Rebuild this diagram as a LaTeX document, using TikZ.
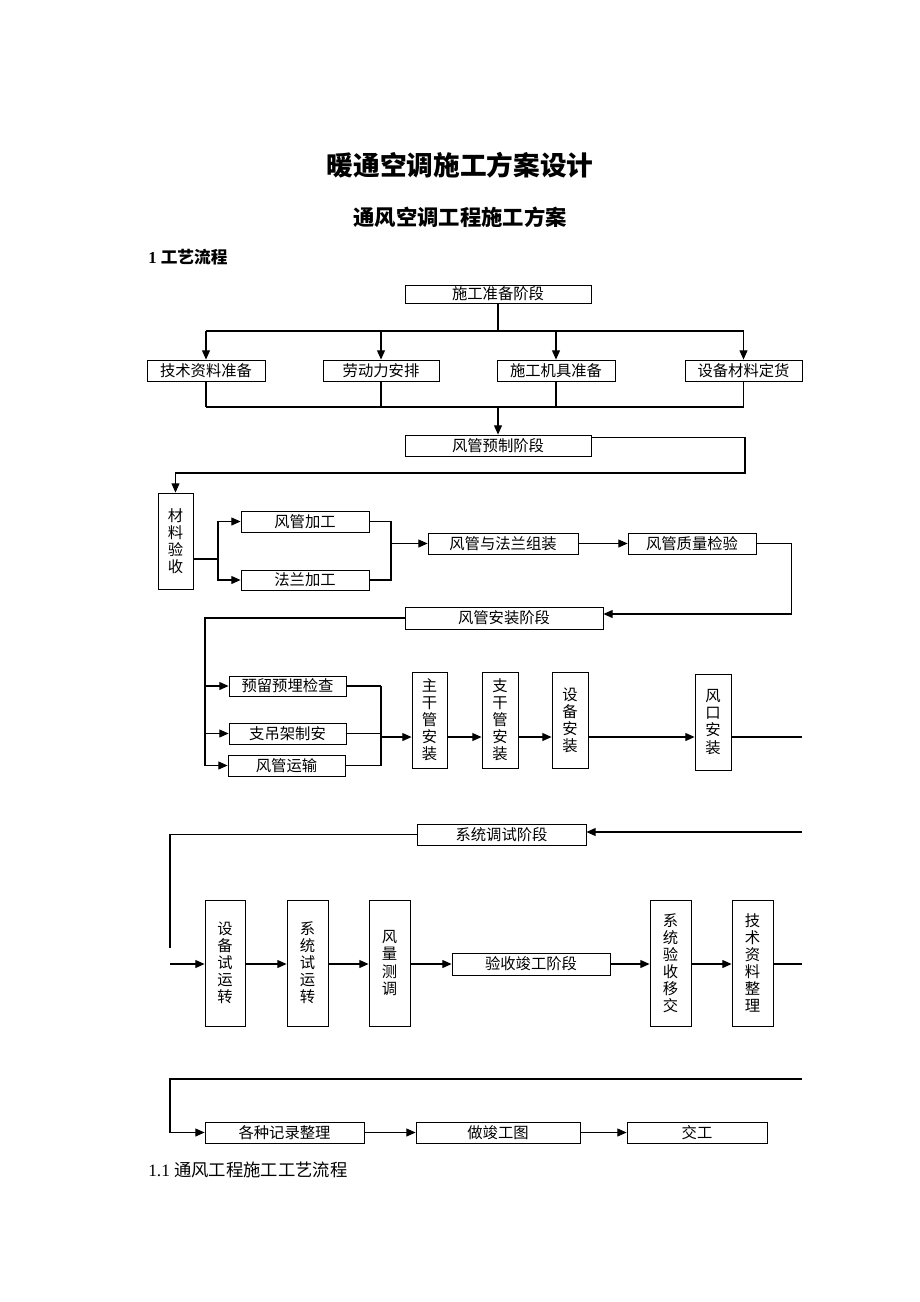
\documentclass[tikz,border=0pt]{standalone}
\usepackage{fontspec}
\setmainfont{Liberation Serif}
\newfontfamily\cjk{Noto Sans CJK SC}
\usetikzlibrary{arrows.meta}
\newlength{\pxunit}
\setlength{\pxunit}{0.75pt}
\newcommand\boxfont{\cjk\fontsize{11.5pt}{12.8pt}\selectfont}
\tikzstyle{flow box}   = [draw,line width=0.6pt,inner sep=0pt,font=\boxfont]
\tikzstyle{wide box}   = [flow box,minimum height=21\pxunit]
\tikzstyle{tall box}   = [flow box,align=center,minimum width=36\pxunit,minimum height=96\pxunit]
\tikzstyle{run box}    = [flow box,align=center,minimum width=41\pxunit,minimum height=126\pxunit]
\tikzstyle{flow line}  = [line width=0.9pt]
\tikzstyle{flow arrow} = [line width=0.9pt,-{Triangle[length=7pt,width=6pt]}]

\begin{document}
\begin{tikzpicture}[x=0.75pt,y=-0.75pt]
    \useasboundingbox (0,0) rectangle (920,1302);

    % Headings
    \node (title) at (460,165) {\cjk\bfseries\fontsize{20pt}{24pt}\selectfont 暖通空调施工方案设计};
    \node (subtitle) at (460,217) {\cjk\bfseries\fontsize{16pt}{19pt}\selectfont 通风空调工程施工方案};
    \node[anchor=west, inner sep=0pt] (section) at (148,257) {\fontsize{12.5pt}{15pt}\selectfont\bfseries 1 {\cjk 工艺流程}};

    % Preparation stage
    \node[flow box, minimum width=186\pxunit, minimum height=18\pxunit] (prep) at (498,294) {施工准备阶段};
    \node[wide box, minimum width=118\pxunit] (tech)  at (206,370.5) {技术资料准备};
    \node[wide box, minimum width=116\pxunit] (labor) at (381,370.5) {劳动力安排};
    \node[wide box, minimum width=118\pxunit] (tool)  at (556,370.5) {施工机具准备};
    \node[wide box, minimum width=117\pxunit] (matl)  at (743.5,370.5) {设备材料定货};
    \coordinate (split top) at (498,331);
    \coordinate (join bot) at (498,407);

    \draw[flow line] (prep.south) -- (split top);
    \draw[flow line] (tech.north |- split top) -- (matl.north |- split top);
    \foreach \n in {tech,labor,tool,matl}{
        \draw[flow arrow] (\n.north |- split top) -- (\n.north);
        \draw[flow line] (\n.south) -- (\n.south |- join bot);
    }
    \draw[flow line] (tech.south |- join bot) -- (matl.south |- join bot);

    % Prefabrication stage
    \node[wide box, minimum width=186\pxunit] (prefab) at (498,445.5) {风管预制阶段};
    \draw[flow arrow] (join bot) -- (prefab.north);

    \node[tall box, minimum width=35\pxunit] (accept) at (175.5,541) {材\\料\\验\\收};
    \node[wide box, minimum width=128\pxunit] (duct)     at (305,521.5) {风管加工};
    \node[wide box, minimum width=128\pxunit, minimum height=20\pxunit] (flange) at (305,580) {法兰加工};
    \node[wide box, minimum width=150\pxunit] (assemble) at (503,543.5) {风管与法兰组装};
    \node[wide box, minimum width=128\pxunit] (quality)  at (692,543.5) {风管质量检验};
    \coordinate (prefab turn) at (745,473);
    \coordinate (fork) at (218,559);
    \coordinate (merge) at (391,543.5);

    \draw[flow arrow] ([yshift=-2pt]prefab.north east) -| (prefab turn) -| (accept.north);
    \draw[flow line] (accept.east |- fork) -- (fork);
    \draw[flow arrow] (fork) |- (duct.west);
    \draw[flow arrow] (fork) |- (flange.west);
    \draw[flow line] (duct.east) -| (merge);
    \draw[flow line] (flange.east) -| (merge);
    \draw[flow arrow] (merge) -- (assemble.west);
    \draw[flow arrow] (assemble.east) -- (quality.west);

    % Installation stage
    \node[wide box, minimum width=198\pxunit, minimum height=22\pxunit] (install) at (504,618) {风管安装阶段};
    \draw[flow arrow] (quality.east) -- ++(35,0) |- ([yshift=3pt]install.east);

    \node[wide box, minimum width=117\pxunit, minimum height=20\pxunit] (check) at (287.5,686) {预留预埋检查};
    \node[wide box, minimum width=117\pxunit] (hanger)    at (287.5,733.5) {支吊架制安};
    \node[wide box, minimum width=117\pxunit] (transport) at (286.5,765.5) {风管运输};
    \node[tall box, minimum width=35\pxunit] (main) at (429.5,720) {主\\干\\管\\安\\装};
    \node[tall box] (branch) at (500,720) {支\\干\\管\\安\\装};
    \node[tall box] (equip)  at (570,720) {设\\备\\安\\装};
    \node[tall box] (vent)   at (713,722) {风\\口\\安\\装};
    \coordinate (install fork) at (205,618);
    \coordinate (pre merge) at (381,737);
    \coordinate (edge a) at (802,737);

    \draw[flow line] (install.west) -| (transport.west -| install fork);
    \foreach \n in {check,hanger,transport}{
        \draw[flow arrow] (\n.west -| install fork) -- (\n.west);
        \draw[flow line] (\n.east) -- (\n.east -| pre merge);
    }
    \draw[flow line] (check.east -| pre merge) -- (transport.east -| pre merge);
    \draw[flow arrow] (pre merge) -- (main.west |- pre merge);
    \foreach \a/\b in {main/branch,branch/equip,equip/vent}
        \draw[flow arrow] (\a.east |- pre merge) -- (\b.west |- pre merge);
    \draw[flow line] (vent.east |- pre merge) -- (edge a);

    % Commissioning stage
    \node[wide box, minimum width=169\pxunit] (debug) at (501.5,834.5) {系统调试阶段};
    \node[run box, minimum width=40\pxunit] (eqrun) at (225,963) {设\\备\\试\\运\\转};
    \node[run box] (sysrun)  at (307.5,963) {系\\统\\试\\运\\转};
    \node[run box] (airflow) at (389.5,963) {风\\量\\测\\调};
    \node[wide box, minimum width=158\pxunit, minimum height=22\pxunit] (completion) at (531,964) {验收竣工阶段};
    \node[run box] (handover) at (670.5,963) {系\\统\\验\\收\\移\\交};
    \node[run box] (docs)     at (752.5,963) {技\\术\\资\\料\\整\\理};
    \coordinate (edge b) at (802,832);
    \coordinate (debug drop) at (170,948);
    \coordinate (run start) at (170,964);
    \coordinate (edge c) at (802,964);

    \draw[flow arrow] (edge b) -- (debug.east |- edge b);
    \draw[flow line] (debug.west) -| (debug drop);
    \draw[flow arrow] (run start) -- (eqrun.west |- run start);
    \foreach \a/\b in {eqrun/sysrun,sysrun/airflow,airflow/completion,completion/handover,handover/docs}
        \draw[flow arrow] (\a.east |- run start) -- (\b.west |- run start);
    \draw[flow line] (docs.east |- run start) -- (edge c);

    % Hand-over
    \node[wide box, minimum width=159\pxunit] (records) at (284.5,1132.5) {各种记录整理};
    \node[wide box, minimum width=164\pxunit] (asbuilt) at (498,1132.5) {做竣工图};
    \node[wide box, minimum width=140\pxunit] (deliver) at (697,1132.5) {交工};
    \coordinate (edge d) at (802,1079);
    \coordinate (back turn) at (170,1079);

    \draw[flow arrow] (edge d) -- (back turn) |- (records.west);
    \draw[flow arrow] (records.east) -- (asbuilt.west);
    \draw[flow arrow] (asbuilt.east) -- (deliver.west);

    \node[anchor=west, inner sep=0pt] (caption) at (148,1170) {\fontsize{13pt}{15pt}\selectfont 1.1 {\cjk 通风工程施工工艺流程}};
\end{tikzpicture}
\end{document}
